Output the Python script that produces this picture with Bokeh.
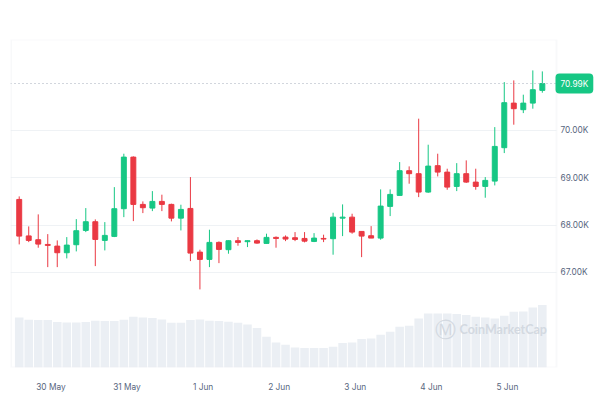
from datetime import datetime, timedelta
from bokeh.plotting import figure
from bokeh.models import Range1d, FixedTicker, Span, Label, BoxAnnotation, ColumnDataSource
from bokeh.embed import file_html
from bokeh.resources import INLINE

# ---------------- data (3-hour BTC/USD candles) ----------------
start = datetime(2024, 5, 29, 14, 0)
step_hours = 3

opens = [68541, 67770, 67690, 67590, 67555, 67415, 67584, 67886, 68070, 67675,
         67760, 68345, 69435, 68436, 68358, 68499, 68436, 68146, 68351, 67428,
         67274, 67633, 67479, 67669, 67648, 67669, 67612, 67739, 67745, 67732,
         67717, 67654, 67717, 67711, 68146, 68167, 67865, 67774, 67724, 68394,
         68626, 69148, 69085, 68696, 69254, 69118, 68816, 69085, 68907, 68816,
         68928, 69634, 70576, 70437, 70576, 70845]
closes = [67766, 67675, 67597, 67570, 67415, 67576, 67880, 68070, 67696, 67781,
          68345, 69435, 68436, 68366, 68499, 68436, 68146, 68330, 67407, 67274,
          67633, 67485, 67669, 67633, 67669, 67618, 67739, 67717, 67703, 67696,
          67660, 67724, 67703, 68167, 68167, 67851, 67766, 67724, 68400, 68647,
          69148, 69085, 68696, 69245, 69118, 68801, 69085, 68907, 68816, 68943,
          69661, 70585, 70458, 70576, 70859, 70990]
highs = [68605, 67971, 68225, 67808, 67675, 67745, 68125, 68358, 68119, 68062,
         68801, 69507, 69450, 68499, 68717, 68641, 68451, 68429, 69013, 67479,
         67901, 67654, 67675, 67745, 67675, 67696, 67817, 67760, 67781, 67851,
         67851, 67829, 67796, 68260, 68436, 68239, 67865, 67977, 68753, 68753,
         69330, 69239, 70247, 69697, 69507, 69190, 69308, 69366, 69190, 69013,
         70069, 71020, 71056, 70754, 71267, 71246]
lows = [67591, 67639, 67521, 67111, 67111, 67295, 67443, 67851, 67132, 67464,
        67745, 68167, 68083, 68252, 68294, 68294, 68077, 67886, 67238, 66640,
        67111, 67195, 67394, 67563, 67534, 67605, 67605, 67521, 67660, 67660,
        67633, 67639, 67639, 67373, 67766, 67817, 67322, 67724, 67690, 68189,
        68626, 68873, 68590, 68680, 69027, 68746, 68717, 68890, 68746, 68577,
        68837, 69520, 70120, 70365, 70458, 70796]
volumes = [5.00, 4.77, 4.74, 4.74, 4.54, 4.50, 4.50, 4.54, 4.67, 4.64,
           4.64, 4.77, 5.07, 5.00, 4.94, 4.80, 4.47, 4.47, 4.74, 4.80,
           4.67, 4.64, 4.57, 4.47, 4.30, 3.94, 3.07, 2.50, 2.27, 2.00,
           1.94, 1.94, 1.94, 2.07, 2.44, 2.50, 2.84, 2.90, 3.27, 3.57,
           4.07, 4.17, 4.90, 5.40, 5.40, 5.40, 5.34, 5.24, 5.07, 5.00,
           4.90, 5.17, 5.57, 5.60, 6.00, 6.24]

day_labels = ["30 May", "31 May", "1 Jun", "2 Jun", "3 Jun", "4 Jun", "5 Jun"]
day_dates = [datetime(2024, 5, 30), datetime(2024, 5, 31), datetime(2024, 6, 1),
             datetime(2024, 6, 2), datetime(2024, 6, 3), datetime(2024, 6, 4),
             datetime(2024, 6, 5)]
price_ticks = [67000, 68000, 69000, 70000]
last_price = 70990

# ---------------- styling ----------------
GREEN = "#16c784"
RED = "#ea3943"
GRID = "#eff2f5"
BORDER = "#e8ebf0"
LABEL = "#58667e"
VOL = "#ebeff4"
FS = "8.3px"

n = len(opens)
times = [start + timedelta(hours=step_hours * i) for i in range(n)]
colors = [GREEN if c >= o else RED for o, c in zip(opens, closes)]
src = ColumnDataSource(dict(
    t=times, o=opens, c=closes, h=highs, l=lows, v=volumes, col=colors,
    top=[max(o, c) for o, c in zip(opens, closes)],
    bot=[min(o, c) for o, c in zip(opens, closes)],
))

step_ms = step_hours * 3600 * 1000
PLOT_W = 546  # width of the bordered chart area (px); the strip to its right holds price labels

p = figure(width=600, height=394, x_axis_type="datetime", y_axis_location=None,
           output_backend="svg", toolbar_location=None,
           min_border_left=10, min_border_right=0, min_border_top=39, min_border_bottom=27,
           x_range=Range1d(start - timedelta(hours=2.75),
                           start + timedelta(hours=183.35)),
           y_range=Range1d(64990, 71920))
p.background_fill_color = "white"
p.border_fill_color = "white"
p.outline_line_color = None

p.extra_y_ranges = {"vol": Range1d(0, 32.8)}

# volume bars
p.vbar(x="t", top="v", bottom=0, width=0.9 * step_ms, source=src,
       y_range_name="vol", fill_color=VOL, line_color=None)

# candles
p.segment(x0="t", x1="t", y0="l", y1="h", color="col", line_width=1, source=src)
p.vbar(x="t", top="top", bottom="bot", width=0.52 * step_ms, fill_color="col",
       line_color="col", line_width=1, source=src)

# grid
p.xgrid.grid_line_color = None
p.ygrid.ticker = FixedTicker(ticks=price_ticks)
p.ygrid.grid_line_color = GRID

# last price dotted line
p.add_layout(Span(location=last_price, dimension="width", line_color="#a3acb9",
                  line_width=1, line_dash="1 3"))

# white strip for the price scale, and the chart border
p.add_layout(BoxAnnotation(left=PLOT_W, left_units="screen", fill_color="white",
                           fill_alpha=1, line_color=None, level="annotation"))
p.add_layout(BoxAnnotation(left=0.5, right=PLOT_W, left_units="screen", right_units="screen",
                           top=p.y_range.end, bottom=p.y_range.start,
                           fill_alpha=0, line_color=BORDER, line_width=2,
                           level="annotation"))

# price scale labels
for t in price_ticks:
    p.add_layout(Label(x=PLOT_W + 4, y=t, x_units="screen", y_units="data",
                       text=f"{t / 1000:.2f}K", text_color=LABEL, text_font="Inter",
                       text_font_size=FS, text_baseline="middle", text_align="left"))

# last price badge
p.add_layout(Label(x=PLOT_W - 1, y=last_price, x_units="screen", y_units="data",
                   text=f"{last_price / 1000:.2f}K", text_color="white",
                   text_font="Inter", text_font_size=FS,
                   text_baseline="middle", text_align="left",
                   background_fill_color=GREEN, border_radius=4, padding=5))

# x axis
xa = p.xaxis[0]
tick_ms = [int((d - datetime(1970, 1, 1)).total_seconds() * 1000) for d in day_dates]
xa.ticker = FixedTicker(ticks=tick_ms)
xa.major_label_overrides = {t: lab for t, lab in zip(tick_ms, day_labels)}
xa.axis_line_color = None
xa.major_tick_line_color = None
xa.minor_tick_line_color = None
xa.major_label_text_color = LABEL
xa.major_label_text_font = "Inter"
xa.major_label_text_font_size = FS
xa.major_label_standoff = 8

# watermark
WM = "#d3d9e1"
p.add_layout(Label(x=424, y=38, x_units="screen", y_units="screen", text="Ⓜ",
                   text_color=WM, text_font="DejaVu Sans", text_font_size="21px",
                   text_baseline="middle", text_align="left"))
p.add_layout(Label(x=449, y=38, x_units="screen", y_units="screen", text="CoinMarketCap",
                   text_color=WM, text_font="Lato", text_font_size="12.5px",
                   text_font_style="bold", text_baseline="middle", text_align="left"))

open("out.html", "w").write(file_html(p, INLINE))
